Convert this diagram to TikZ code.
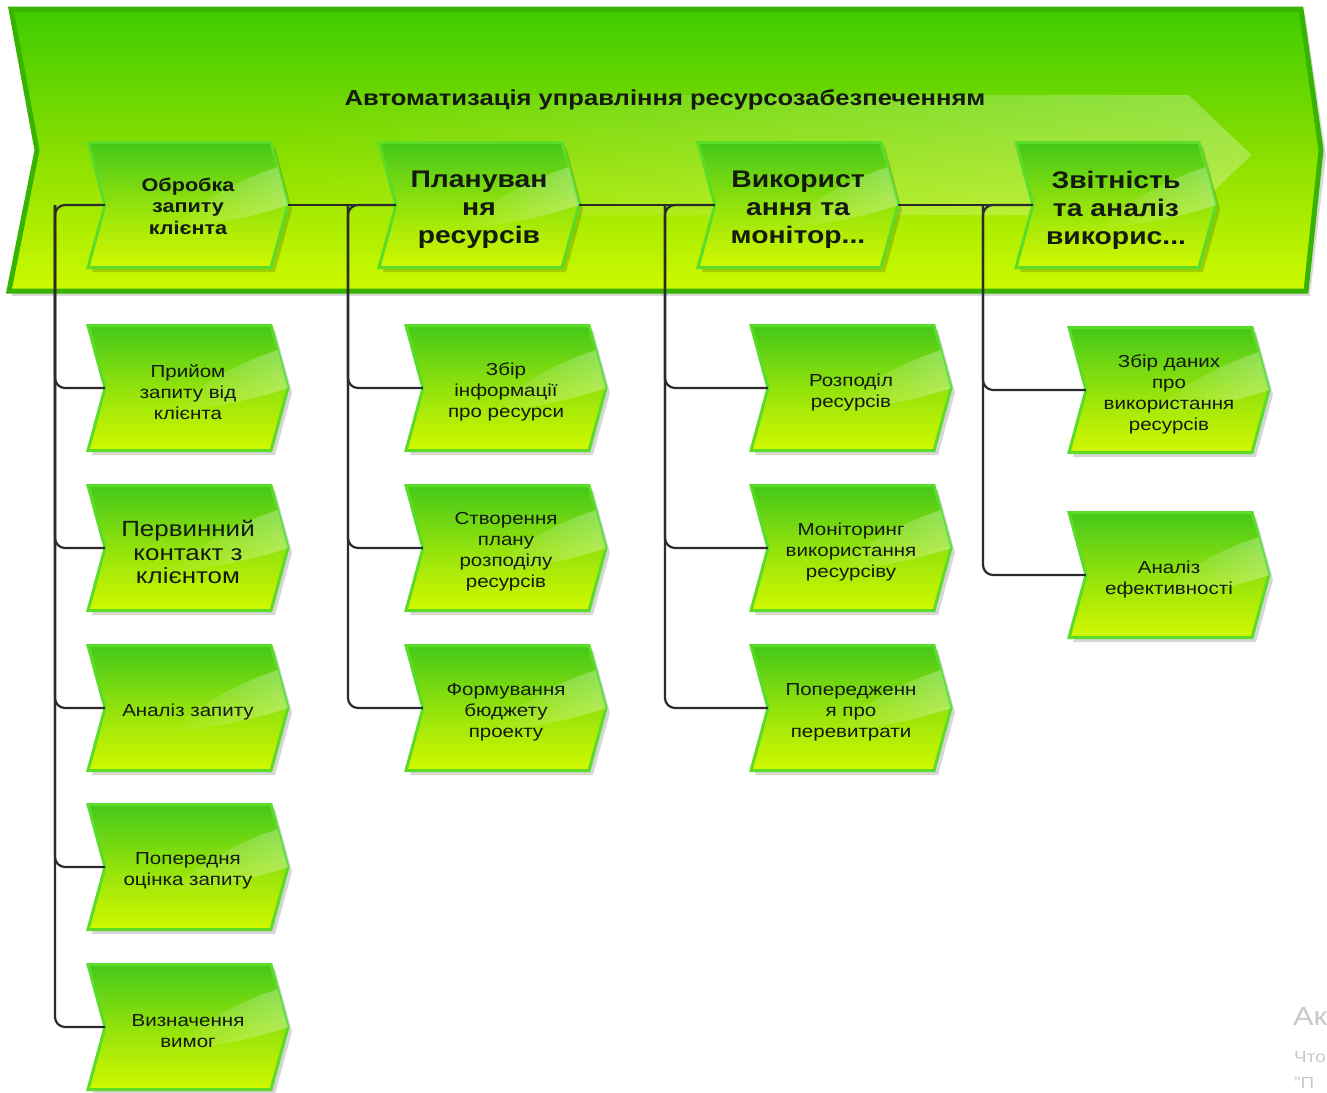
\documentclass[tikz,border=0pt]{standalone}
\usepackage{fontspec}
\setmainfont[FakeStretch=1.18]{Liberation Sans}
\usetikzlibrary{calc,fadings}
\tikzfading[name=glossfade, left color=transparent!100, right color=transparent!0]
\definecolor{banTop}{HTML}{3ECC00}
\definecolor{banMid}{HTML}{88DE00}
\definecolor{banBot}{HTML}{CDFA00}
\definecolor{banEdge}{HTML}{36B400}
\definecolor{chTop}{HTML}{44C81A}
\definecolor{chBot}{HTML}{D2F800}
\definecolor{chEdge}{HTML}{5ADC28}
\definecolor{lineC}{HTML}{2B2B2B}
\definecolor{txtC}{HTML}{141A10}
\definecolor{wmC}{HTML}{C8C8C8}
\tikzset{
  chevshape/.style={top color=chTop, bottom color=chBot, middle color=chTop!45!chBot, draw=chEdge, line width=3pt, line join=miter},
  chevtext/.style={rectangle, minimum width=200pt, minimum height=125pt, inner sep=0pt, align=center, text=txtC},
  topbold/.style={font=\fontsize{24}{28}\selectfont\bfseries},
  smallbold/.style={font=\fontsize{18.3}{21.5}\selectfont\bfseries},
  childtxt/.style={font=\fontsize{17.4}{21}\selectfont},
  bigtxt/.style={font=\fontsize{22}{23.5}\selectfont},
  conn/.style={draw=lineC, line width=2.2pt, rounded corners=10pt},
}
% #1 name, #2 cx, #3 cy, #4 style, #5 text y offset, #6 text
\newcommand\chev[6]{%
  \fill[black, opacity=0.16] (#2-96,#3-58) -- (#2+87,#3-58) -- (#2+104,#3+4.5) -- (#2+87,#3+67) -- (#2-96,#3+67) -- (#2-79,#3+4.5) -- cycle;
  \path[chevshape] (#2-100,#3-62.5) -- (#2+83,#3-62.5) -- (#2+100,#3) -- (#2+83,#3+62.5) -- (#2-100,#3+62.5) -- (#2-83,#3) -- cycle;
  \begin{scope}
    \clip (#2-100,#3-62.5) -- (#2+83,#3-62.5) -- (#2+100,#3) -- (#2+83,#3+62.5) -- (#2-100,#3+62.5) -- (#2-83,#3) -- cycle;
    \fill[white, path fading=glossfade, fill opacity=0.32] (#2-20,#3+24) .. controls (#2+30,#3+20) and (#2+70,#3+10) .. (#2+104,#3-1) -- (#2+104,#3-42) .. controls (#2+60,#3-30) and (#2+20,#3-10) .. (#2-20,#3+24) -- cycle;
  \end{scope}
  \node[chevtext,#4] (#1) at (#2,#3+#5) {#6};
}
\begin{document}
\begin{tikzpicture}[x=1pt,y=-1pt]
\useasboundingbox (0,0) rectangle (1327,1092);
\fill[white] (0,0) rectangle (1327,1092);
% banner
\fill[black, opacity=0.15] (14,14) -- (1305,14) -- (1326,155) -- (1310,296) -- (12,296) -- (40,155) -- cycle;
\path[top color=banTop, bottom color=banBot, middle color=banMid, draw=banEdge, line width=5pt, line join=miter]
  (11,9) -- (1301,9) -- (1321,150) -- (1306,291) -- (9,291) -- (37,150) -- cycle;
\fill[white, path fading=glossfade, fill opacity=0.28] (300,95) -- (1190,95) -- (1253,155) -- (1190,215) -- (300,215) -- cycle;
\node[font=\fontsize{21.7}{24}\selectfont\bfseries, text=txtC] (title) at (665,100) {Автоматизація управління ресурсозабезпеченням};
% bus coordinates
\coordinate (bus1) at (55,205);
\coordinate (bus2) at (348,205);
\coordinate (bus3) at (665,205);
\coordinate (bus4) at (983,205);
\chev{o1}{188}{205}{smallbold}{1}{Обробка\\запиту\\клієнта}
\chev{o2}{479}{205}{topbold}{5}{Плануван\\ня\\ресурсів}
\chev{o3}{798}{205}{topbold}{5}{Використ\\ання та\\монітор...}
\chev{o4}{1116}{205}{topbold}{5}{Звітність\\та аналіз\\викорис...}
\chev{a1}{188}{388}{childtxt}{4}{Прийом\\запиту від\\клієнта}
\chev{a2}{188}{548}{bigtxt}{4}{Первинний\\контакт з\\клієнтом}
\chev{a3}{188}{708}{childtxt}{4}{Аналіз запиту}
\chev{a4}{188}{867}{childtxt}{4}{Попередня\\оцінка запиту}
\chev{a5}{188}{1027}{childtxt}{4}{Визначення\\вимог}
\chev{b1}{506}{388}{childtxt}{4}{Збір\\інформації\\про ресурси}
\chev{b2}{506}{548}{childtxt}{4}{Створення\\плану\\розподілу\\ресурсів}
\chev{b3}{506}{708}{childtxt}{4}{Формування\\бюджету\\проекту}
\chev{c1}{851}{388}{childtxt}{4}{Розподіл\\ресурсів}
\chev{c2}{851}{548}{childtxt}{4}{Моніторинг\\використання\\ресурсіву}
\chev{c3}{851}{708}{childtxt}{4}{Попередженн\\я про\\перевитрати}
\chev{d1}{1169}{390}{childtxt}{4}{Збір даних\\про\\використання\\ресурсів}
\chev{d2}{1169}{575}{childtxt}{4}{Аналіз\\ефективності}
% connector end points (notches and tips) derived from the nodes
\foreach \n/\dy in {o1/1,o2/5,o3/5,o4/5,a1/4,a2/4,a3/4,a4/4,a5/4,b1/4,b2/4,b3/4,c1/4,c2/4,c3/4,d1/4,d2/4}{
  \coordinate (\n-in) at ($(\n.west)+(17,-\dy)$);
  \coordinate (\n-out) at ($(\n.east)+(0,-\dy)$);
}
% connectors
\draw[conn] (o1-in) -- (bus1) |- (a5-in);
\foreach \n in {a1,a2,a3,a4} \draw[conn] (bus1) |- (\n-in);
\draw[conn] (o1-out) -- (o2-in);
\draw[conn] (o2-in) -- (bus2) |- (b3-in);
\foreach \n in {b1,b2} \draw[conn] (bus2) |- (\n-in);
\draw[conn] (o2-out) -- (o3-in);
\draw[conn] (o3-in) -- (bus3) |- (c3-in);
\foreach \n in {c1,c2} \draw[conn] (bus3) |- (\n-in);
\draw[conn] (o3-out) -- (o4-in);
\draw[conn] (o4-in) -- (bus4) |- (d2-in);
\draw[conn] (bus4) |- (d1-in);
% watermark fragments
\node[anchor=west, inner sep=0pt, text=wmC, font=\fontsize{26}{26}\selectfont] (wm1) at (1293,1017) {Ак};
\node[anchor=west, inner sep=0pt, text=wmC, font=\fontsize{16}{16}\selectfont] (wm2) at (1294,1057) {Что};
\node[anchor=west, inner sep=0pt, text=wmC, font=\fontsize{16}{16}\selectfont] (wm3) at (1294,1083) {\symbol{34}П};
\end{tikzpicture}
\end{document}
